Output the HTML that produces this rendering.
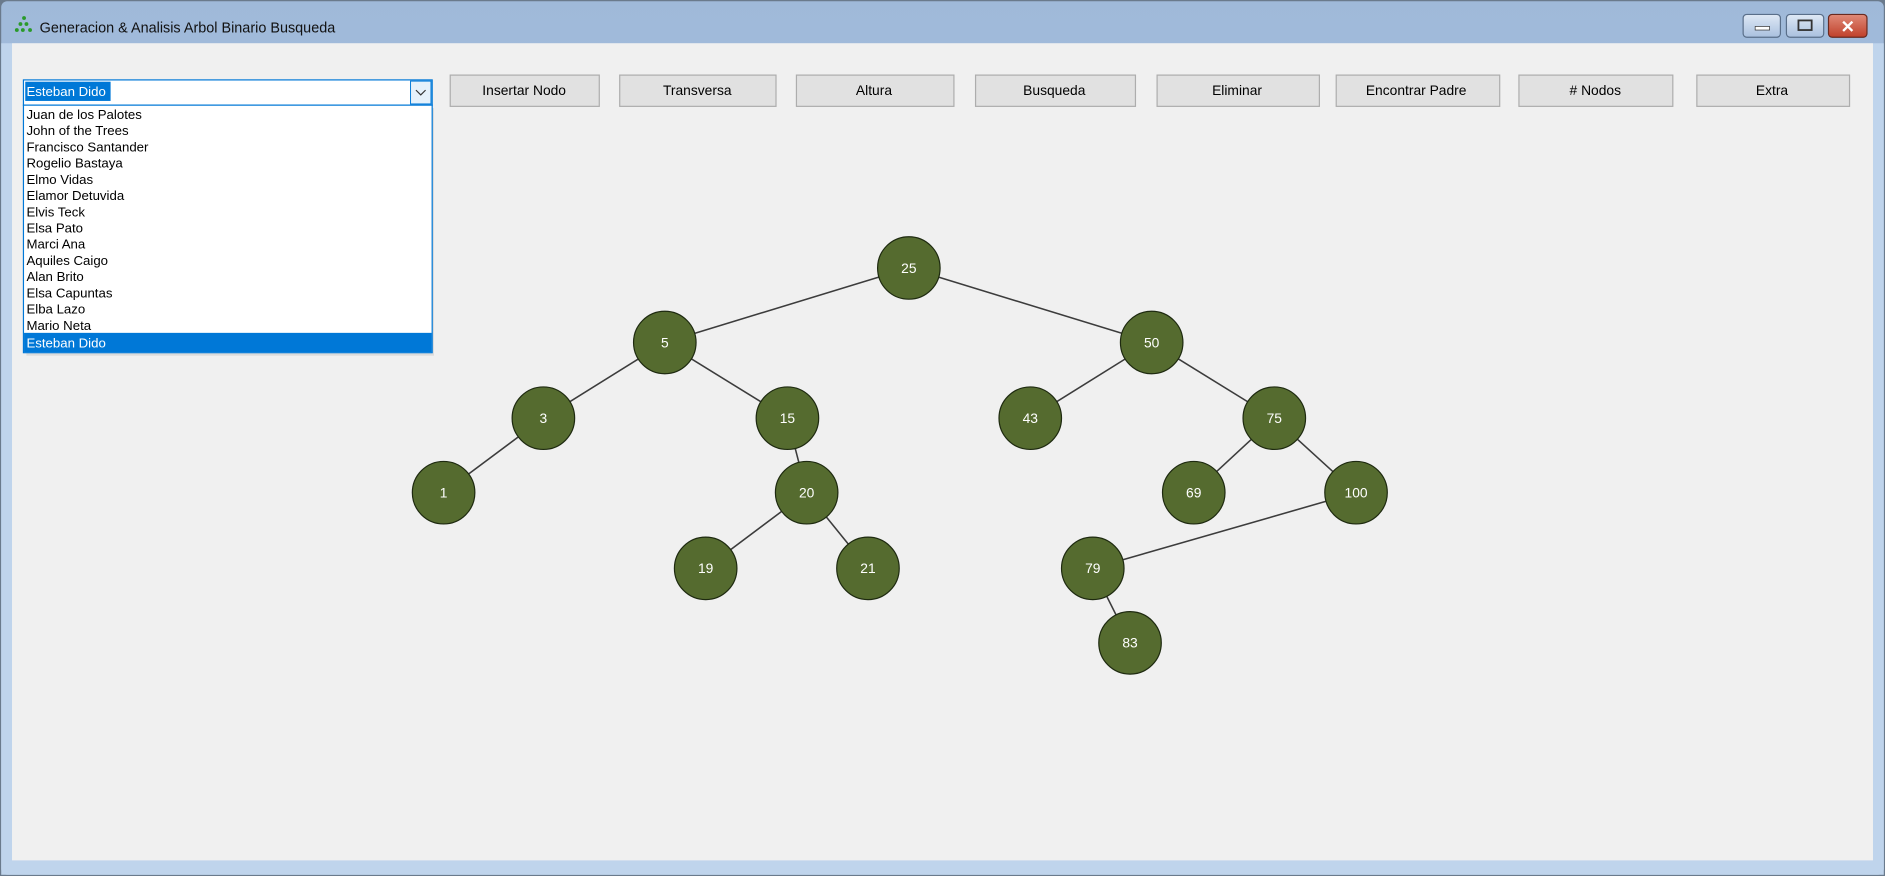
<!DOCTYPE html>
<html><head><meta charset="utf-8"><style>
html,body{margin:0;padding:0;width:1885px;height:876px;overflow:hidden;background:#fff}
svg{display:block}
text{font-family:"Liberation Sans",sans-serif}
</style></head><body>
<svg width="1885" height="876" viewBox="0 0 1568 729" preserveAspectRatio="none" xmlns="http://www.w3.org/2000/svg">
<defs>
<linearGradient id="tb" x1="0" y1="0" x2="0" y2="1"><stop offset="0" stop-color="#9fb9d9"/><stop offset="1" stop-color="#c2d6ee"/></linearGradient>
<linearGradient id="cl" x1="0" y1="0" x2="0" y2="1"><stop offset="0" stop-color="#e08a78"/><stop offset="1" stop-color="#c0402a"/></linearGradient>
<linearGradient id="bt" x1="0" y1="0" x2="0" y2="1"><stop offset="0" stop-color="#dfe9f5"/><stop offset="1" stop-color="#a9c0de"/></linearGradient>
</defs>
<rect x="0" y="0" width="1568" height="729" fill="#6a7a8c"/>
<rect x="1" y="1" width="1566" height="727" rx="5" fill="url(#tb)"/>
<rect x="1" y="36" width="1566" height="692" fill="#bfd4ec"/>
<rect x="10" y="36" width="1548" height="680" fill="#f0f0f0"/>
<g fill="#2a9a2a"><circle cx="20" cy="15" r="1.6"/><circle cx="17" cy="20" r="1.6"/><circle cx="22" cy="20" r="1.6"/><circle cx="14" cy="25" r="1.6"/><circle cx="19" cy="25" r="1.6"/><circle cx="25" cy="25" r="1.6"/></g>
<text x="33" y="27" font-size="12" fill="#111">Generacion &amp; Analisis Arbol Binario Busqueda</text>
<rect x="1450" y="12" width="31" height="19" rx="3" fill="url(#bt)" stroke="#5a6f8a"/>
<rect x="1460" y="22" width="12" height="3" fill="#fff" stroke="#333" stroke-width="0.6"/>
<rect x="1486" y="12" width="31" height="19" rx="3" fill="url(#bt)" stroke="#5a6f8a"/>
<rect x="1496" y="17" width="11" height="8" fill="none" stroke="#333" stroke-width="1.5"/>
<rect x="1521" y="12" width="32" height="19" rx="3" fill="url(#cl)" stroke="#6a2a20"/>
<text x="1537" y="27" font-size="14" font-weight="bold" fill="#fff" text-anchor="middle">✕</text>
<g font-size="11.5" fill="#000" text-anchor="middle">
<rect x="374.5" y="62.5" width="124" height="26" fill="#e1e1e1" stroke="#adadad"/><text x="436" y="79">Insertar Nodo</text>
<rect x="515.5" y="62.5" width="130" height="26" fill="#e1e1e1" stroke="#adadad"/><text x="580" y="79">Transversa</text>
<rect x="662.5" y="62.5" width="131" height="26" fill="#e1e1e1" stroke="#adadad"/><text x="727" y="79">Altura</text>
<rect x="811.5" y="62.5" width="133" height="26" fill="#e1e1e1" stroke="#adadad"/><text x="877" y="79">Busqueda</text>
<rect x="962.5" y="62.5" width="135" height="26" fill="#e1e1e1" stroke="#adadad"/><text x="1029" y="79">Eliminar</text>
<rect x="1111.5" y="62.5" width="136" height="26" fill="#e1e1e1" stroke="#adadad"/><text x="1178" y="79">Encontrar Padre</text>
<rect x="1263.5" y="62.5" width="128" height="26" fill="#e1e1e1" stroke="#adadad"/><text x="1327" y="79">#&#160;Nodos</text>
<rect x="1411.5" y="62.5" width="127" height="26" fill="#e1e1e1" stroke="#adadad"/><text x="1474" y="79">Extra</text>
</g>
<rect x="19.5" y="66.5" width="340" height="21" fill="#fff" stroke="#0078d7"/>
<rect x="341.5" y="67.5" width="17" height="19" fill="#e5f1fb" stroke="#0078d7" stroke-width="0.8"/>
<path d="M346 75 L350 79 L354 75" fill="none" stroke="#333"/>
<rect x="21" y="68" width="71" height="16" fill="#0078d7"/>
<text x="22" y="80" font-size="11" fill="#fff">Esteban Dido</text>
<rect x="22" y="90" width="339" height="206" fill="#c8c8c8" opacity="0.5"/>
<rect x="19.5" y="87.5" width="340" height="206" fill="#fff" stroke="#0078d7"/>
<rect x="20" y="277" width="339" height="16" fill="#0078d7"/>
<g font-size="11" fill="#000">
<text x="22" y="99">Juan de los Palotes</text>
<text x="22" y="112.5">John of the Trees</text>
<text x="22" y="126">Francisco Santander</text>
<text x="22" y="139.5">Rogelio Bastaya</text>
<text x="22" y="153">Elmo Vidas</text>
<text x="22" y="166.5">Elamor Detuvida</text>
<text x="22" y="180">Elvis Teck</text>
<text x="22" y="193.5">Elsa Pato</text>
<text x="22" y="207">Marci Ana</text>
<text x="22" y="220.5">Aquiles Caigo</text>
<text x="22" y="234">Alan Brito</text>
<text x="22" y="247.5">Elsa Capuntas</text>
<text x="22" y="261">Elba Lazo</text>
<text x="22" y="274.5">Mario Neta</text>
<text x="22" y="289" fill="#fff">Esteban Dido</text>
</g>
<g stroke="#3c3c3c" stroke-width="1.3">
<line x1="756" y1="223" x2="553" y2="285"/><line x1="756" y1="223" x2="958" y2="285"/>
<line x1="553" y1="285" x2="452" y2="348"/><line x1="553" y1="285" x2="655" y2="348"/>
<line x1="452" y1="348" x2="369" y2="410"/><line x1="655" y1="348" x2="671" y2="410"/>
<line x1="671" y1="410" x2="587" y2="473"/><line x1="671" y1="410" x2="722" y2="473"/>
<line x1="958" y1="285" x2="857" y2="348"/><line x1="958" y1="285" x2="1060" y2="348"/>
<line x1="1060" y1="348" x2="993" y2="410"/><line x1="1060" y1="348" x2="1128" y2="410"/>
<line x1="1128" y1="410" x2="909" y2="473"/><line x1="909" y1="473" x2="940" y2="535"/>
</g>
<g fill="#556b2f" stroke="#1e2a10" stroke-width="1">
<circle cx="756" cy="223" r="26"/><circle cx="553" cy="285" r="26"/><circle cx="958" cy="285" r="26"/>
<circle cx="452" cy="348" r="26"/><circle cx="655" cy="348" r="26"/><circle cx="857" cy="348" r="26"/><circle cx="1060" cy="348" r="26"/>
<circle cx="369" cy="410" r="26"/><circle cx="671" cy="410" r="26"/><circle cx="993" cy="410" r="26"/><circle cx="1128" cy="410" r="26"/>
<circle cx="587" cy="473" r="26"/><circle cx="722" cy="473" r="26"/><circle cx="909" cy="473" r="26"/><circle cx="940" cy="535" r="26"/>
</g>
<g font-size="11.5" fill="#fff" text-anchor="middle">
<text x="756" y="227">25</text><text x="553" y="289">5</text><text x="958" y="289">50</text>
<text x="452" y="352">3</text><text x="655" y="352">15</text><text x="857" y="352">43</text><text x="1060" y="352">75</text>
<text x="369" y="414">1</text><text x="671" y="414">20</text><text x="993" y="414">69</text><text x="1128" y="414">100</text>
<text x="587" y="477">19</text><text x="722" y="477">21</text><text x="909" y="477">79</text><text x="940" y="539">83</text>
</g>
</svg>
</body></html>
